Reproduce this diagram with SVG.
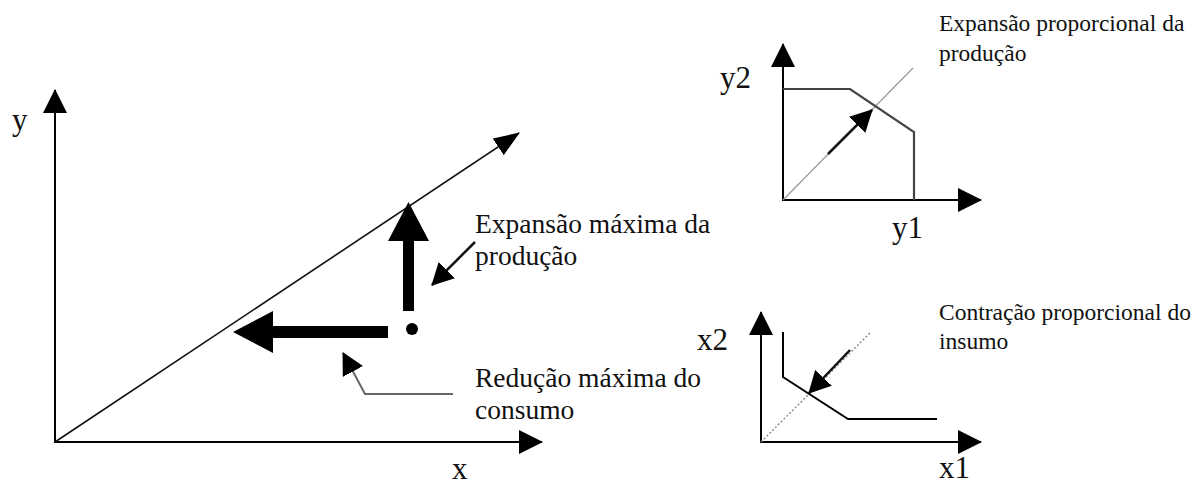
<svg xmlns="http://www.w3.org/2000/svg" width="1204" height="486" viewBox="0 0 1204 486" font-family="'Liberation Serif', 'Times New Roman', 'DejaVu Serif', serif">
<style>
text{font-family:"Liberation Serif","Times New Roman","DejaVu Serif",serif;fill:#111}
.big{font-size:27.5px}
.small{font-size:23.5px}
.axlab{font-size:31px}
.axis{stroke:#000;stroke-width:2;fill:none}
.thin{stroke:#111;stroke-width:1.6;fill:none}
.ray{stroke:#999;stroke-width:1.2;fill:none}
.dotted{stroke:#888;stroke-width:1.4;stroke-dasharray:2 2;fill:none}
.front{stroke:#444;stroke-width:2.2;fill:none}
.ptr{stroke:#111;stroke-width:2.5;fill:none}
.gptr{stroke:#666;stroke-width:2;fill:none}
.solid{fill:#000}
</style>
<defs>
<marker id="axhead" markerUnits="userSpaceOnUse" markerWidth="24" markerHeight="24" refX="23" refY="12" orient="auto" viewBox="0 0 24 24"><path d="M0,0 L24,12 L0,24 z" fill="#000"/></marker>
<marker id="thinhead" markerUnits="userSpaceOnUse" markerWidth="26" markerHeight="20" refX="25" refY="10" orient="auto" viewBox="0 0 26 20"><path d="M0,0 L26,10 L0,20 z" fill="#000"/></marker>
<marker id="smallhead" markerUnits="userSpaceOnUse" markerWidth="22" markerHeight="23" refX="21" refY="11.5" orient="auto" viewBox="0 0 22 23"><path d="M0,0 L22,11.5 L0,23 z" fill="#000"/></marker>
</defs>
<rect width="1204" height="486" fill="#fff"/>

<g id="main-graph">
  <line class="axis" x1="55" y1="443" x2="55" y2="90" marker-end="url(#axhead)"/>
  <line class="axis" x1="54" y1="442" x2="542" y2="442" marker-end="url(#axhead)"/>
  <line class="thin" x1="55" y1="442" x2="519" y2="133" marker-end="url(#thinhead)"/>
  <text class="axlab" x="12" y="130">y</text>
  <text class="axlab" x="452" y="479">x</text>
  <circle cx="412" cy="329" r="6" fill="#000"/>
</g>

<g id="label-expansao">
  <text class="big" x="475" y="233">Expansão máxima da</text>
  <text class="big" x="475" y="265">produção</text>
</g>
<g id="label-reducao">
  <text class="big" x="475" y="387">Redução máxima do</text>
  <text class="big" x="475" y="419">consumo</text>
</g>

<g id="output-graph">
  <line class="axis" x1="783" y1="201" x2="783" y2="44" marker-end="url(#axhead)"/>
  <line class="axis" x1="782" y1="200" x2="981" y2="200" marker-end="url(#axhead)"/>
  <line class="ray" x1="783" y1="200" x2="913" y2="68"/>
  <polyline class="front" points="783,89 850,89 914,132 914,200"/>
  <text class="axlab" x="720" y="88">y2</text>
  <text class="axlab" x="892" y="238">y1</text>
  <text class="small" x="939" y="31">Expansão proporcional da</text>
  <text class="small" x="939" y="61">produção</text>
</g>

<g id="input-graph">
  <line class="axis" x1="761" y1="443" x2="761" y2="312" marker-end="url(#axhead)"/>
  <line class="axis" x1="760" y1="442" x2="981" y2="442" marker-end="url(#axhead)"/>
  <line class="dotted" x1="761" y1="442" x2="871" y2="332"/>
  <polyline class="axis" points="783,332 783,377 848,419 937,419"/>
  <text class="axlab" x="697" y="350">x2</text>
  <text class="axlab" x="939" y="478">x1</text>
  <text class="small" x="939" y="320">Contração proporcional do</text>
  <text class="small" x="939" y="349">insumo</text>
</g>

<g id="connectors">
  <path class="solid" d="M403,311 L403,241 L388,241 L408.5,202 L429,241 L414,241 L414,311 z"/>
  <path class="solid" d="M388,326 L273,326 L273,311 L233,332 L273,353 L273,338 L388,338 z"/>
  <line class="ptr" x1="475" y1="242" x2="432" y2="285" marker-end="url(#smallhead)"/>
  <polyline class="gptr" points="453,394 365,394 343,353" marker-end="url(#smallhead)"/>
  <line class="ptr" x1="828" y1="154" x2="872" y2="110" marker-end="url(#smallhead)"/>
  <line class="ptr" x1="850" y1="350" x2="809" y2="393" marker-end="url(#smallhead)"/>
</g>
</svg>
